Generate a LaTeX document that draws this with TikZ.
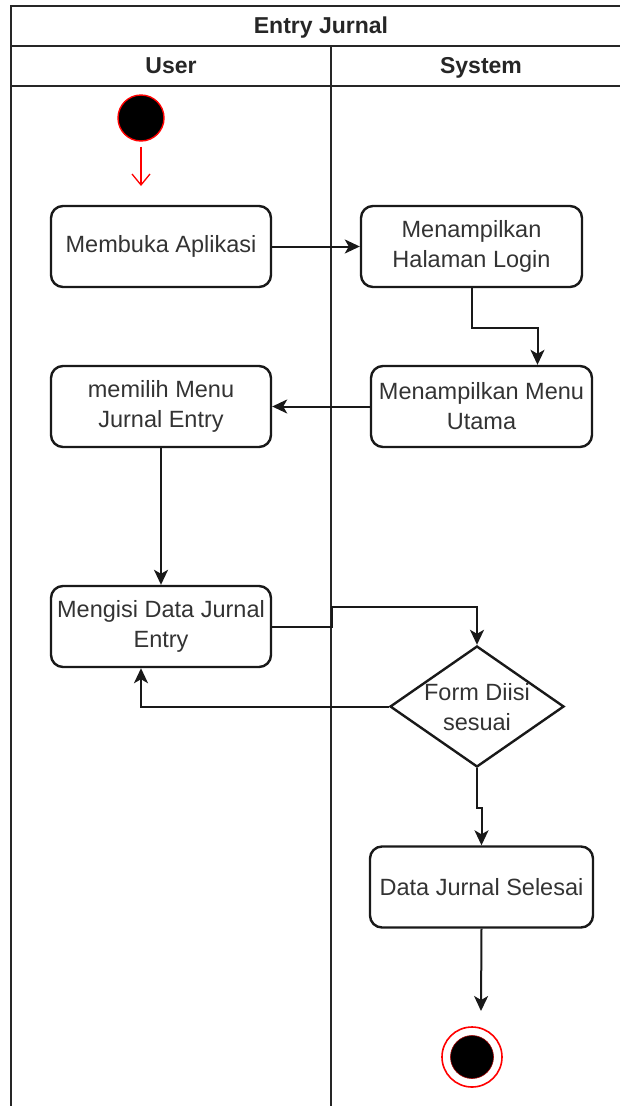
\documentclass[tikz,border=0pt]{standalone}
\usepackage{fontspec}
\setmainfont{Liberation Sans}
\usetikzlibrary{arrows.meta,shapes.geometric}
\begin{document}
\begin{tikzpicture}[x=1pt,y=-1pt,
  lane/.style={line width=2pt,draw=black!85},
  act/.style={draw=black!90,line width=2.4pt,rounded corners=12pt,minimum width=221pt,minimum height=81pt,inner sep=0pt,align=center,text=black!80,font=\fontsize{23.5}{30}\selectfont},
  hdr/.style={font=\bfseries\fontsize{23}{28}\selectfont,text=black!85,text height=17pt,text depth=5pt,inner sep=0pt},
  arr/.style={line width=2pt,draw=black!90,-{Stealth[length=15pt,width=14pt,inset=4pt]}},
  dec/.style={draw=black!90,line width=2.4pt,diamond,minimum width=174pt,minimum height=121pt,inner sep=0pt},
  lbl/.style={align=center,text=black!80,font=\fontsize{23.5}{30}\selectfont}
]
\useasboundingbox (0,0) rectangle (620,1106);
% swimlane frame
\draw[lane] (622,6) -- (11,6) -- (11,1108);
\draw[lane] (11,46) -- (622,46);
\draw[lane] (11,86) -- (622,86);
\draw[lane] (331,46) -- (331,1108);
\node[hdr] (title) at (321,27) {Entry Jurnal};
\node[hdr] (user) at (171,67) {User};
\node[hdr] (system) at (481,67) {System};
% start
\node[circle,fill=black,draw=red,line width=1.4pt,minimum size=46pt,inner sep=0pt] (start) at (141,118) {};
\coordinate (startend) at (141,186);
\draw[red,line width=1.3pt,-{Straight Barb[length=11pt,width=18pt]},shorten <=5pt] (start.south) -- (startend);
% activities
\node[act,minimum width=220pt] (buka) at (161,246.5) {Membuka Aplikasi};
\node[act] (login) at (471.5,246.5) {Menampilkan\\Halaman Login};
\node[act] (menu) at (481.5,406.5) {Menampilkan Menu\\Utama};
\node[act,minimum width=220pt] (pilih) at (161,406.5) {memilih Menu\\Jurnal Entry};
\node[act,minimum width=220pt] (isi) at (161,626.5) {Mengisi Data Jurnal\\Entry};
\node[dec] (form) at (477,706.5) {};
\node[lbl] (formtext) at (477,707) {Form Diisi\\sesuai};
\node[act,minimum width=223pt] (selesai) at (481.5,887) {Data Jurnal Selesai};
% end
\node[circle,draw=red,fill=white,line width=1.6pt,minimum size=60pt,inner sep=0pt,
  path picture={\fill[black,draw=red!60!black,line width=0.6pt] (path picture bounding box.center) circle (21.5pt);}] (endnode) at (472,1057) {};
\coordinate (finalend) at (481,1011);
% connectors
\draw[arr] (buka.east) -- (login.west);
\draw[arr] (login.south) -- ++(0,39.5) -| ([xshift=56pt]menu.north);
\draw[arr] (menu.west) -- (pilih.east);
\draw[arr] (pilih.south) -- (isi.north);
\draw[arr] (isi.east) -- ++(60,0) -- ++(0,-20) -| (form.north);
\draw[arr] (form.west) -| ([xshift=-20pt]isi.south);
\draw[arr] (form.south) -- ++(0,40) -| (selesai.north);
\draw[arr] (selesai.south) -- (finalend);
\end{tikzpicture}
\end{document}
